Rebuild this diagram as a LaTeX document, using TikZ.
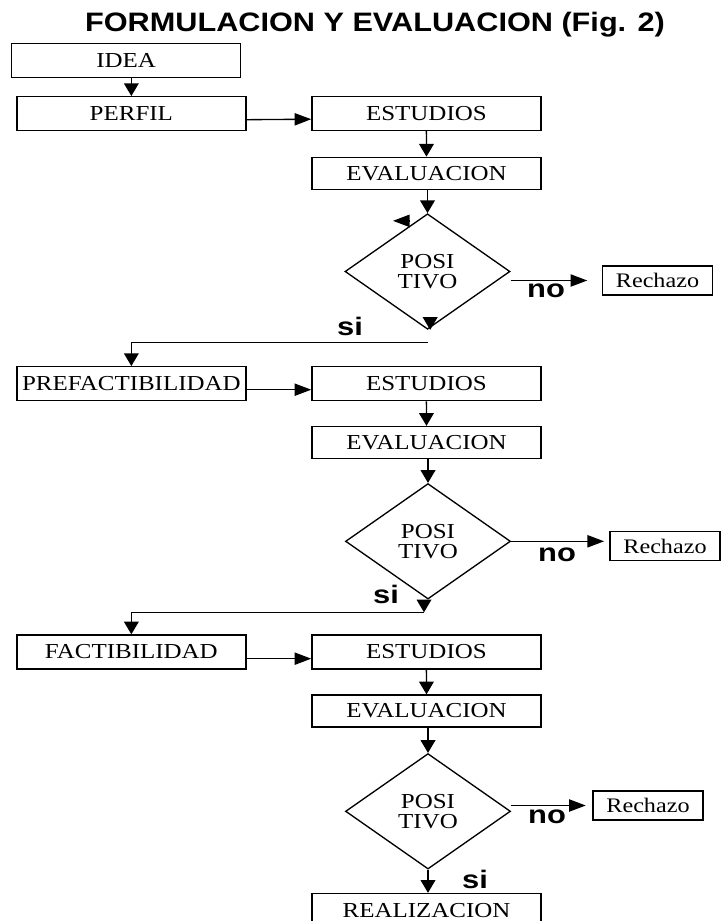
\documentclass[tikz,border=0pt]{standalone}
\usepackage{fontspec}
\usetikzlibrary{shapes.geometric,arrows.meta}
\newfontfamily\boxfont[FakeStretch=1.17]{Liberation Serif}
\newfontfamily\labelfont[FakeStretch=1.22]{Liberation Sans}
\newfontfamily\headfont[FakeStretch=1.15]{Liberation Sans}
\begin{document}
\begin{tikzpicture}[x=0.75pt,y=-0.75pt,
  stepbox/.style={draw, line width=1pt, minimum width=171.75pt, minimum height=25.5pt,
    inner sep=0pt, font=\boxfont\fontsize{16pt}{18pt}\selectfont},
  evalbox/.style={stepbox, minimum height=24pt},
  reject/.style={draw, line width=0.9pt, minimum width=82.5pt, minimum height=21.75pt,
    inner sep=0pt, font=\boxfont\fontsize{15.5pt}{18pt}\selectfont},
  decision/.style={diamond, draw, line width=1pt, minimum width=123.75pt,
    minimum height=86.6pt, inner sep=0pt, align=center,
    font=\boxfont\fontsize{16pt}{15pt}\selectfont},
  varr/.style={line width=1pt, -{Triangle[length=9.5pt,width=11pt]}},
  harr/.style={line width=1pt, -{Triangle[length=12.5pt,width=9.2pt]}},
  answer/.style={font=\labelfont\bfseries\fontsize{19pt}{20pt}\selectfont, inner sep=0pt}
]
% page frame
\useasboundingbox (0,0) rectangle (724,921);
\fill[white] (0,0) rectangle (724,921);
\clip (0,0) rectangle (724,921);

% heading
\node[anchor=base, inner sep=0pt, font=\headfont\bfseries\fontsize{20pt}{22pt}\selectfont]
  (title) at (375,31) {FORMULACION Y EVALUACION (Fig. 2)};

% stage 1: perfil
\node[stepbox] (idea)   at (126.2,60.5)  {IDEA};
\node[stepbox] (perfil) at (131.35,113.7) {PERFIL};
\node[stepbox] (est1)   at (426.4,113.2) {ESTUDIOS};
\node[evalbox] (eval1)  at (426.5,173.3) {EVALUACION};
\node[decision] (d1)    at (427.5,271.5) {POSI\\TIVO};
\node[reject] (rech1)   at (657.5,280.5) {Rechazo};

% stage 2: prefactibilidad
\node[stepbox] (prefac) at (131.35,383.7) {PREFACTIBILIDAD};
\node[stepbox] (est2)   at (426.4,383.7) {ESTUDIOS};
\node[evalbox] (eval2)  at (426.5,442.5) {EVALUACION};
\node[decision] (d2)    at (428,541.3) {POSI\\TIVO};
\node[reject] (rech2)   at (665,546) {Rechazo};

% stage 3: factibilidad
\node[stepbox] (factib) at (131.35,652) {FACTIBILIDAD};
\node[stepbox] (est3)   at (426.4,652) {ESTUDIOS};
\node[evalbox] (eval3)  at (426.5,711) {EVALUACION};
\node[decision] (d3)    at (428,811.3) {POSI\\TIVO};
\node[reject] (rech3)   at (648,805.5) {Rechazo};
\node[stepbox, text depth=0pt, text height=11pt] (real) at (426.5,910.5) {REALIZACION};

% answer labels
\node[answer] (no1) at (546,290.5) {no};
\node[answer] (no2) at (557,555) {no};
\node[answer] (no3) at (547,816.7) {no};
\node[answer] (si1) at (350,326) {si};
\node[answer] (si2) at (386,594) {si};
\node[answer] (si3) at (475,879) {si};

% bends of the "si" branches
\coordinate (s1) at (428,342.3);
\coordinate (s2) at (424,612.3);

% stage 1 connectors
\draw[varr] (idea.south -| perfil.north) -- (perfil.north);
\draw[harr] ([yshift=-4.5pt]perfil.east) -- ([yshift=-4.5pt]est1.west);
\draw[varr] (est1.south) -- (eval1.north);
\draw[varr] (eval1.south -| d1.north) -- (d1.north);
\draw[harr, shorten >=11pt] (d1.east |- rech1.west) -- (rech1.west);
\draw[varr] ([xshift=2pt,yshift=9.5pt]d1.south) -- ([xshift=2pt]d1.south);
\draw[harr] ([xshift=-13.1pt,yshift=-5.8pt]d1.north) -- ([xshift=-25.9pt,yshift=-5.8pt]d1.north);
\draw[varr] (s1) -| (prefac.north);

% stage 2 connectors
\draw[harr] ([yshift=-4.5pt]prefac.east) -- ([yshift=-4.5pt]est2.west);
\draw[varr] (est2.south) -- (eval2.north);
\draw[varr] (eval2.south -| d2.north) -- (d2.north);
\draw[harr, shorten >=4pt] (d2.east) -- (d2.east -| rech2.west);
\draw[varr] (s2 |- d2.south) -- (s2);
\draw[varr] (s2) -| (factib.north);

% stage 3 connectors
\draw[harr] ([yshift=-5pt]factib.east) -- ([yshift=-5pt]est3.west);
\draw[varr] (est3.south) -- (eval3.north);
\draw[varr] (eval3.south -| d3.north) -- (d3.north);
\draw[harr, shorten >=5pt] (d3.east |- rech3.west) -- (rech3.west);
\draw[varr] (d3.south) -- (d3.south |- real.north);
\end{tikzpicture}
\end{document}
